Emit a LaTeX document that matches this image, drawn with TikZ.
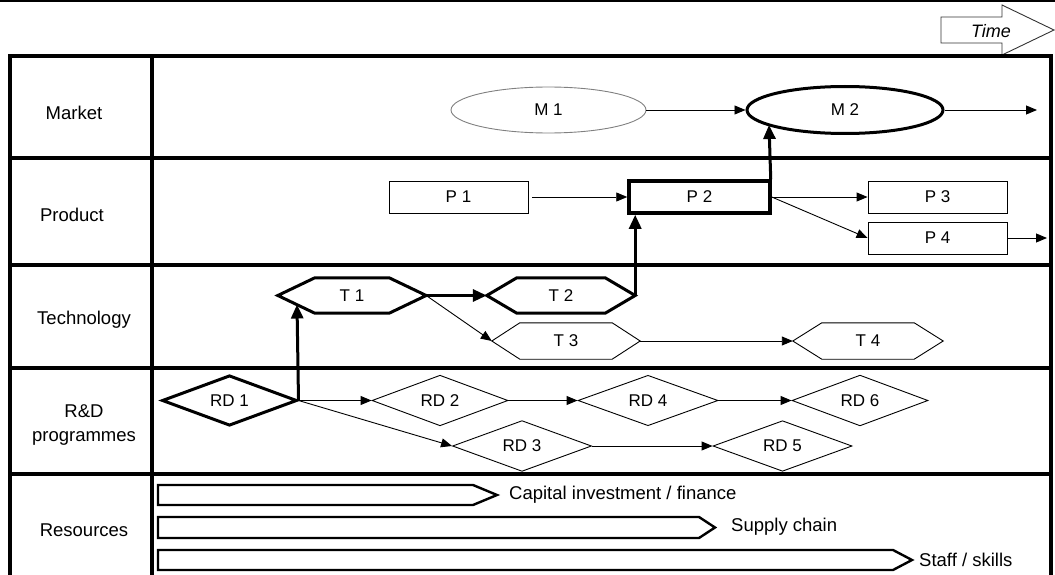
\documentclass[tikz,border=0pt]{standalone}
\usepackage{fontspec}
\setmainfont{Liberation Sans}
\usetikzlibrary{arrows.meta,shapes.geometric}
\newcommand\hexoutline[3]{%
  \draw[#3] (#1.west) -- ([xshift=#2pt]#1.north west) -- ([xshift=-#2pt]#1.north east)
    -- (#1.east) -- ([xshift=-#2pt]#1.south east) -- ([xshift=#2pt]#1.south west) -- cycle;}
\begin{document}
\begin{tikzpicture}[x=1pt,y=-1pt,
  tbl/.style={line width=4pt},
  rowlbl/.style={font=\fontsize{18.5}{24}\selectfont, align=center, inner sep=0},
  nlbl/.style={font=\fontsize{17}{20}\selectfont, inner sep=0},
  thinb/.style={draw, line width=0.9pt},
  thickb/.style={draw, line width=3pt},
  boxn/.style={nlbl, rectangle, minimum width=139pt, minimum height=32pt},
  elln/.style={nlbl, ellipse, minimum width=195pt, minimum height=46pt},
  dian/.style={nlbl, diamond, minimum width=137pt, minimum height=41pt},
  hexn/.style={nlbl, rectangle, minimum width=148pt, minimum height=35pt},
  thinarr/.style={line width=0.9pt, -{Triangle[length=11pt,width=9pt]}},
  thickarr/.style={line width=3pt, -{Triangle[length=14pt,width=12pt]}},
  resbar/.style={draw, line width=2.4pt, line join=miter},
  reslbl/.style={font=\fontsize{18.5}{22}\selectfont, anchor=west, inner sep=0}
]
\useasboundingbox (0,0) rectangle (1055,575);
% top rule
\draw[line width=1.5pt] (0,1) -- (1055,1);
% time arrow
\draw[line width=0.9pt, draw=black!80] (941,17) -- (1002,17) -- (1002,5) -- (1054,30)
  -- (1002,55) -- (1002,43) -- (941,43) -- cycle;
\node[font=\fontsize{18}{20}\selectfont\itshape, inner sep=0] (time) at (991,31) {Time};
% table
\draw[tbl] (10,580) -- (10,56) -- (1051,56) -- (1051,580);
\foreach \yy in {158,265,368,474} \draw[tbl] (10,\yy) -- (1051,\yy);
\draw[tbl] (152,56) -- (152,580);
% row labels
\node[rowlbl] (lmarket) at (74,113) {Market};
\node[rowlbl] (lproduct) at (72,215) {Product};
\node[rowlbl] (ltech) at (84,320) {Technology};
\node[rowlbl] (lrd) at (84,425) {R\&D\\programmes};
\node[rowlbl] (lres) at (84,530) {Resources};
% market
\node[elln, draw=black!50, line width=0.9pt] (M1) at (548.5,110) {M 1};
\node[elln, thickb, minimum width=196pt, minimum height=47pt] (M2) at (845,110) {M 2};
\coordinate (mout) at (1037,110);
\coordinate (m2hit) at (769,125);
% product
\node[boxn, thinb] (P1) at (458.5,197) {P 1};
\node[boxn, thickb, line width=3.5pt, minimum width=141pt] (P2) at (699.5,197) {P 2};
\node[boxn, thinb] (P3) at (937.5,197) {P 3};
\node[boxn, thinb] (P4) at (937.5,238) {P 4};
\coordinate (pout) at (1047,238);
% technology
\node[hexn] (T1) at (352,295.5) {T 1};
\node[hexn] (T2) at (561,295.5) {T 2};
\node[hexn, minimum height=36pt] (T3) at (566,341) {T 3};
\node[hexn, minimum height=36pt, minimum width=150pt] (T4) at (868,341) {T 4};
\hexoutline{T1}{37}{line width=3pt}
\hexoutline{T2}{30}{line width=3pt}
\hexoutline{T3}{28}{line width=0.9pt}
\hexoutline{T4}{29}{line width=0.9pt}
\coordinate (t1hit) at (297,304.5);
% R&D
\node[dian, thickb, minimum width=135pt] (RD1) at (229.5,400.5) {RD 1};
\node[dian, thinb, minimum width=136pt] (RD2) at (440,400.5) {RD 2};
\node[dian, thinb, minimum width=139pt, minimum height=42pt] (RD3) at (522,446) {RD 3};
\node[dian, thinb, minimum width=140pt] (RD4) at (648,400.5) {RD 4};
\node[dian, thinb, minimum width=139pt, minimum height=42pt] (RD5) at (782.5,446) {RD 5};
\node[dian, thinb, minimum width=136pt] (RD6) at (860,400.5) {RD 6};
% thin connectors
\draw[thinarr] (M1.east) -- (M2.west);
\draw[thinarr] (M2.east) -- (mout);
\draw[thinarr, shorten <=4pt] (P1.east) -- (P2.west);
\draw[thinarr] (P2.east) -- (P3.west);
\draw[thinarr] (P2.east) -- (P4.west);
\draw[thinarr] (P4.east) -- (pout);
\draw[thinarr] (T1.east) -- (T3.west);
\draw[thinarr] (T3.east) -- (T4.west);
\draw[thinarr] (RD1.east) -- (RD2.west);
\draw[thinarr] (RD1.east) -- (RD3.west);
\draw[thinarr] (RD2.east) -- (RD4.west);
\draw[thinarr] (RD4.east) -- (RD6.west);
\draw[thinarr] (RD3.east) -- (RD5.west);
% thick connectors
\draw[thickarr] (RD1.east) -- (t1hit);
\draw[thickarr] (T1.east) -- (T2.west);
\draw[thickarr] (T2.east) -- (T2.east |- P2.south);
\draw[thickarr] ([xshift=-1pt]P2.north east) -- (m2hit);
% resources
\draw[resbar] (158,485) -- (473,485) -- (497,495) -- (473,505) -- (158,505) -- cycle;
\draw[resbar] (158,517) -- (699,517) -- (715,527.5) -- (699,538) -- (158,538) -- cycle;
\draw[resbar] (158,550) -- (893,550) -- (912,560) -- (893,570) -- (158,570) -- cycle;
\node[reslbl] (r1) at (509,495) {Capital investment / finance};
\node[reslbl] (r2) at (731,527) {Supply chain};
\node[reslbl] (r3) at (919,560) {Staff / skills};
\end{tikzpicture}
\end{document}
